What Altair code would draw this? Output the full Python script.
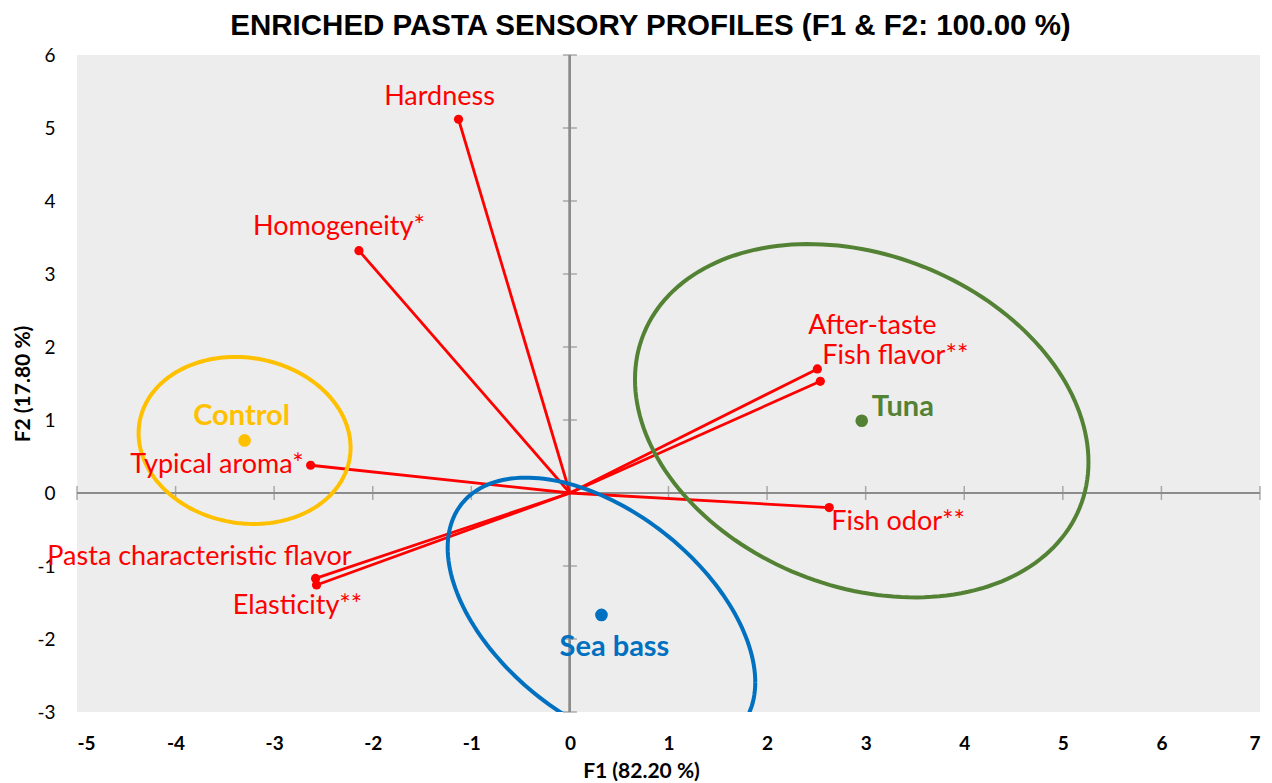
import numpy as np
import pandas as pd
import altair as alt

# ---- data ----
var_names = ["Hardness", "Homogeneity*", "Typical aroma*", "Pasta characteristic flavor",
             "Elasticity**", "After-taste", "Fish flavor**", "Fish odor**"]
var_f1 = [-1.13, -2.14, -2.63, -2.58, -2.57, 2.51, 2.54, 2.63]
var_f2 = [5.12, 3.32, 0.38, -1.17, -1.26, 1.70, 1.53, -0.20]

obs_names = ["Control", "Tuna", "Sea bass"]
obs_f1 = [-3.30, 2.96, 0.32]
obs_f2 = [0.72, 0.99, -1.67]
obs_colors = ["#FFC000", "#548235", "#0070C0"]

# confidence ellipses: centre, spread along F1 / F2, correlation
ell_cx = [-3.30, 2.96, 0.32]
ell_cy = [0.72, 0.99, -1.67]
ell_sx = [1.075, 2.30, 1.56]
ell_sy = [1.144, 2.42, 1.88]
ell_rho = [-0.087, -0.234, -0.49]

x_ticks = list(range(-5, 8))
y_ticks = list(range(-3, 7))

# ---- label styles (align, dx, dy) ----
var_label_style = [("center", -19, -22), ("center", -20, -24), ("right", -7, 0),
                   ("right", 36, -21), ("center", -19, 21), ("center", 55, -43),
                   ("left", 2, -25), ("left", 2, 14)]
obs_label_style = [("center", -3, -24), ("left", 10, -14), ("center", 13, 32)]

RED = "#FF0000"
GRAY = "#8C8C8C"
FONT = "Lato"

xs = alt.Scale(domain=[-5, 7], nice=False, zero=False)
ys = alt.Scale(domain=[-3, 6], nice=False, zero=False)

xaxis = alt.Axis(values=x_ticks, labelExpr="'' + datum.value", domain=False, ticks=False,
                 grid=False, labelFont=FONT, labelFontSize=19, labelFontWeight="bold",
                 labelColor="black", labelPadding=22, title="F1 (82.20 %)", titleFont=FONT,
                 titleFontSize=21, titleFontWeight="bold", titleColor="black",
                 titlePadding=7, titleX=564)
yaxis = alt.Axis(values=y_ticks, labelExpr="'' + datum.value", domain=False, ticks=False,
                 grid=False, labelFont=FONT, labelFontSize=19, labelFontWeight="normal",
                 labelColor="black", labelPadding=22, title="F2 (17.80 %)", titleFont=FONT,
                 titleFontSize=21, titleFontWeight="bold", titleColor="black",
                 titlePadding=3)


def X(field):
    return alt.X(field, type="quantitative", scale=xs, axis=xaxis)


def Y(field):
    return alt.Y(field, type="quantitative", scale=ys, axis=yaxis)


X0 = alt.X(datum=0, type="quantitative", scale=xs, axis=xaxis)
Y0 = alt.Y(datum=0, type="quantitative", scale=ys, axis=yaxis)

vars_df = pd.DataFrame({"name": var_names, "f1": var_f1, "f2": var_f2,
                        "zero": [0.0] * len(var_names)})
obs_df = pd.DataFrame({"name": obs_names, "f1": obs_f1, "f2": obs_f2, "color": obs_colors})

# axis lines through the origin, with tick marks on them
xt_df = pd.DataFrame({"t": x_ticks})
yt_df = pd.DataFrame({"t": y_ticks})
zero_h = alt.Chart(xt_df).mark_rule(color=GRAY, strokeWidth=2).encode(y=Y0)
zero_v = alt.Chart(xt_df).mark_rule(color=GRAY, strokeWidth=2).encode(x=X0)
ticks_x = alt.Chart(xt_df).mark_tick(orient="vertical", size=14, thickness=1.5, color=GRAY).encode(
    x=X("t"), y=Y0)
ticks_y = alt.Chart(yt_df).mark_tick(orient="horizontal", size=14, thickness=1.5, color=GRAY).encode(
    y=Y("t"), x=X0)

# variable vectors
vec = alt.Chart(vars_df).mark_rule(color=RED, strokeWidth=2.8).encode(
    x=X("zero"), y=Y("zero"), x2="f1", y2="f2")
vec_pts = alt.Chart(vars_df).mark_point(filled=True, opacity=1, color=RED, size=85).encode(
    x=X("f1"), y=Y("f2"))

# confidence ellipses
t = np.linspace(0, 2 * np.pi, 181)
ell_layers = []
for i in range(len(obs_names)):
    phi = np.arccos(ell_rho[i])
    edf = pd.DataFrame({"ex": ell_cx[i] + ell_sx[i] * np.cos(t),
                        "ey": ell_cy[i] + ell_sy[i] * np.cos(t - phi),
                        "k": np.arange(len(t))})
    ell_layers.append(alt.Chart(edf).mark_line(color=obs_colors[i], strokeWidth=4, clip=True)
                      .encode(x=X("ex"), y=Y("ey"), order="k:Q"))

obs_pts = alt.Chart(obs_df).mark_point(filled=True, opacity=1, size=160).encode(
    x=X("f1"), y=Y("f2"), color=alt.Color("color:N", scale=None))

text_layers = []
for i, n in enumerate(var_names):
    a, dx, dy = var_label_style[i]
    text_layers.append(alt.Chart(vars_df.iloc[[i]]).mark_text(
        align=a, baseline="middle", dx=dx, dy=dy, font=FONT, fontSize=27, color=RED)
        .encode(x=X("f1"), y=Y("f2"), text="name:N"))
for i, n in enumerate(obs_names):
    a, dx, dy = obs_label_style[i]
    text_layers.append(alt.Chart(obs_df.iloc[[i]]).mark_text(
        align=a, baseline="middle", dx=dx, dy=dy, font=FONT, fontSize=29, fontWeight="bold",
        color=obs_colors[i])
        .encode(x=X("f1"), y=Y("f2"), text="name:N"))

chart = alt.layer(zero_h, zero_v, ticks_x, ticks_y, vec, *ell_layers, vec_pts, obs_pts,
                  *text_layers).properties(
    width=1183, height=657,
    autosize="none",
    padding={"left": 69, "top": 47, "right": 4, "bottom": 72},
    title=alt.Title("ENRICHED PASTA SENSORY PROFILES (F1 & F2: 100.00 %)",
                    font="Liberation Sans", fontSize=29.5, fontWeight="bold", color="black",
                    anchor="middle", dx=-18, offset=5),
).configure_view(fill="#EDEDED", stroke=None)

chart.save("out.html", embed_options={"renderer": "svg", "actions": False})
